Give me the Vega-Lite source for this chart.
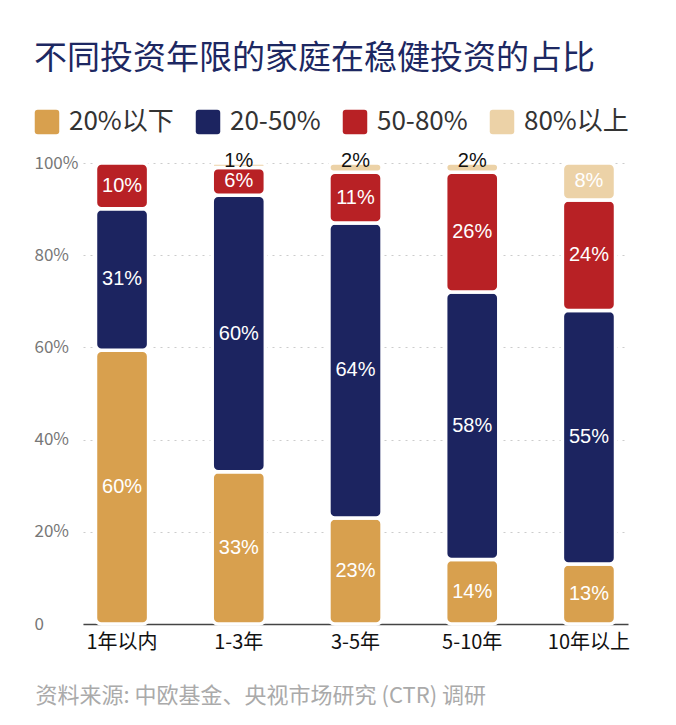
{
  "$schema": "https://vega.github.io/schema/vega-lite/v6.json",
  "width": 545,
  "height": 461,
  "autosize": "none",
  "padding": {"left": 83, "top": 163, "right": 48, "bottom": 101},
  "background": "white",
  "title": {
    "text": "不同投资年限的家庭在稳健投资的占比",
    "anchor": "start",
    "frame": "bounds",
    "font": "Noto Sans CJK SC",
    "fontSize": 33,
    "fontWeight": "normal",
    "color": "#1d2862",
    "offset": 33
  },
  "data": {
    "values": [
      {"period": "1年以内", "level": "20%以下", "value": 60},
      {"period": "1年以内", "level": "20-50%", "value": 31},
      {"period": "1年以内", "level": "50-80%", "value": 10},
      {"period": "1-3年", "level": "20%以下", "value": 33},
      {"period": "1-3年", "level": "20-50%", "value": 60},
      {"period": "1-3年", "level": "50-80%", "value": 6},
      {"period": "1-3年", "level": "80%以上", "value": 1},
      {"period": "3-5年", "level": "20%以下", "value": 23},
      {"period": "3-5年", "level": "20-50%", "value": 64},
      {"period": "3-5年", "level": "50-80%", "value": 11},
      {"period": "3-5年", "level": "80%以上", "value": 2},
      {"period": "5-10年", "level": "20%以下", "value": 14},
      {"period": "5-10年", "level": "20-50%", "value": 58},
      {"period": "5-10年", "level": "50-80%", "value": 26},
      {"period": "5-10年", "level": "80%以上", "value": 2},
      {"period": "10年以上", "level": "20%以下", "value": 13},
      {"period": "10年以上", "level": "20-50%", "value": 55},
      {"period": "10年以上", "level": "50-80%", "value": 24},
      {"period": "10年以上", "level": "80%以上", "value": 8}
    ]
  },
  "transform": [
    {
      "stack": "value",
      "groupby": ["period"],
      "sort": [{"field": "level", "order": "ascending"}],
      "offset": "normalize",
      "as": ["y0", "y1"]
    },
    {"calculate": "datum.value < 5 ? datum.y1 + 0.005 : (datum.y0 + datum.y1) / 2", "as": "labelY"},
    {"calculate": "datum.value + '%'", "as": "label"}
  ],
  "encoding": {
    "x": {
      "field": "period",
      "type": "nominal",
      "sort": ["1年以内", "1-3年", "3-5年", "5-10年", "10年以上"],
      "scale": {"paddingInner": 0.545, "paddingOuter": 0.107},
      "axis": {
        "labelAngle": 0,
        "labelFont": "Noto Sans CJK SC",
        "labelFontSize": 20,
        "labelColor": "#111",
        "labelPadding": 8,
        "ticks": false,
        "tickSize": 0,
        "domainColor": "#444",
        "domainWidth": 1.5,
        "title": "资料来源: 中欧基金、央视市场研究 (CTR) 调研",
        "titleFont": "Noto Sans CJK SC",
        "titleFontSize": 22,
        "titleFontWeight": "normal",
        "titleColor": "#aaaaaa",
        "titleX": -48,
        "titleY": 71,
        "titleAlign": "left",
        "titleAnchor": "start",
        "titleBaseline": "middle"
      }
    }
  },
  "layer": [
    {
      "mark": {"type": "bar", "cornerRadius": 6, "stroke": "white", "strokeWidth": 3.5},
      "encoding": {
        "y": {
          "field": "y1",
          "type": "quantitative",
          "scale": {"domain": [0, 1]},
          "axis": {
            "title": null,
            "values": [0, 0.2, 0.4, 0.6, 0.8, 1],
            "labelExpr": "datum.value === 0 ? '0' : format(datum.value, '.0%')",
            "labelAlign": "left",
            "labelPadding": 49,
            "labelFont": "Noto Sans CJK SC",
            "labelFontSize": 17,
            "labelColor": "#777",
            "ticks": false,
            "tickSize": 0,
            "domain": false,
            "grid": true,
            "gridColor": "#cccccc",
            "gridDash": [2, 5],
            "gridWidth": 1
          }
        },
        "y2": {"field": "y0"},
        "color": {
          "field": "level",
          "type": "nominal",
          "scale": {
            "domain": ["20%以下", "20-50%", "50-80%", "80%以上"],
            "range": ["#d8a04e", "#1c2460", "#b82125", "#ecd2a7"]
          },
          "legend": {
            "title": null,
            "orient": "none",
            "direction": "horizontal",
            "legendX": -49,
            "legendY": -54,
            "symbolType": "M-0.75,-1H0.75Q1,-1 1,-0.75V0.75Q1,1 0.75,1H-0.75Q-1,1 -1,0.75V-0.75Q-1,-1 -0.75,-1Z",
            "symbolSize": 600,
            "symbolStrokeWidth": 0,
            "symbolOpacity": 1,
            "labelFont": "Noto Sans CJK SC",
            "labelFontSize": 26,
            "labelColor": "#333",
            "labelOffset": 9,
            "columnPadding": 21
          }
        }
      }
    },
    {
      "mark": {"type": "text", "font": "Liberation Sans", "fontSize": 20, "baseline": "middle"},
      "encoding": {
        "y": {"field": "labelY", "type": "quantitative"},
        "text": {"field": "label"},
        "color": {"condition": {"test": "datum.value < 5", "value": "#111"}, "value": "white"}
      }
    }
  ],
  "config": {"view": {"stroke": null}}
}
